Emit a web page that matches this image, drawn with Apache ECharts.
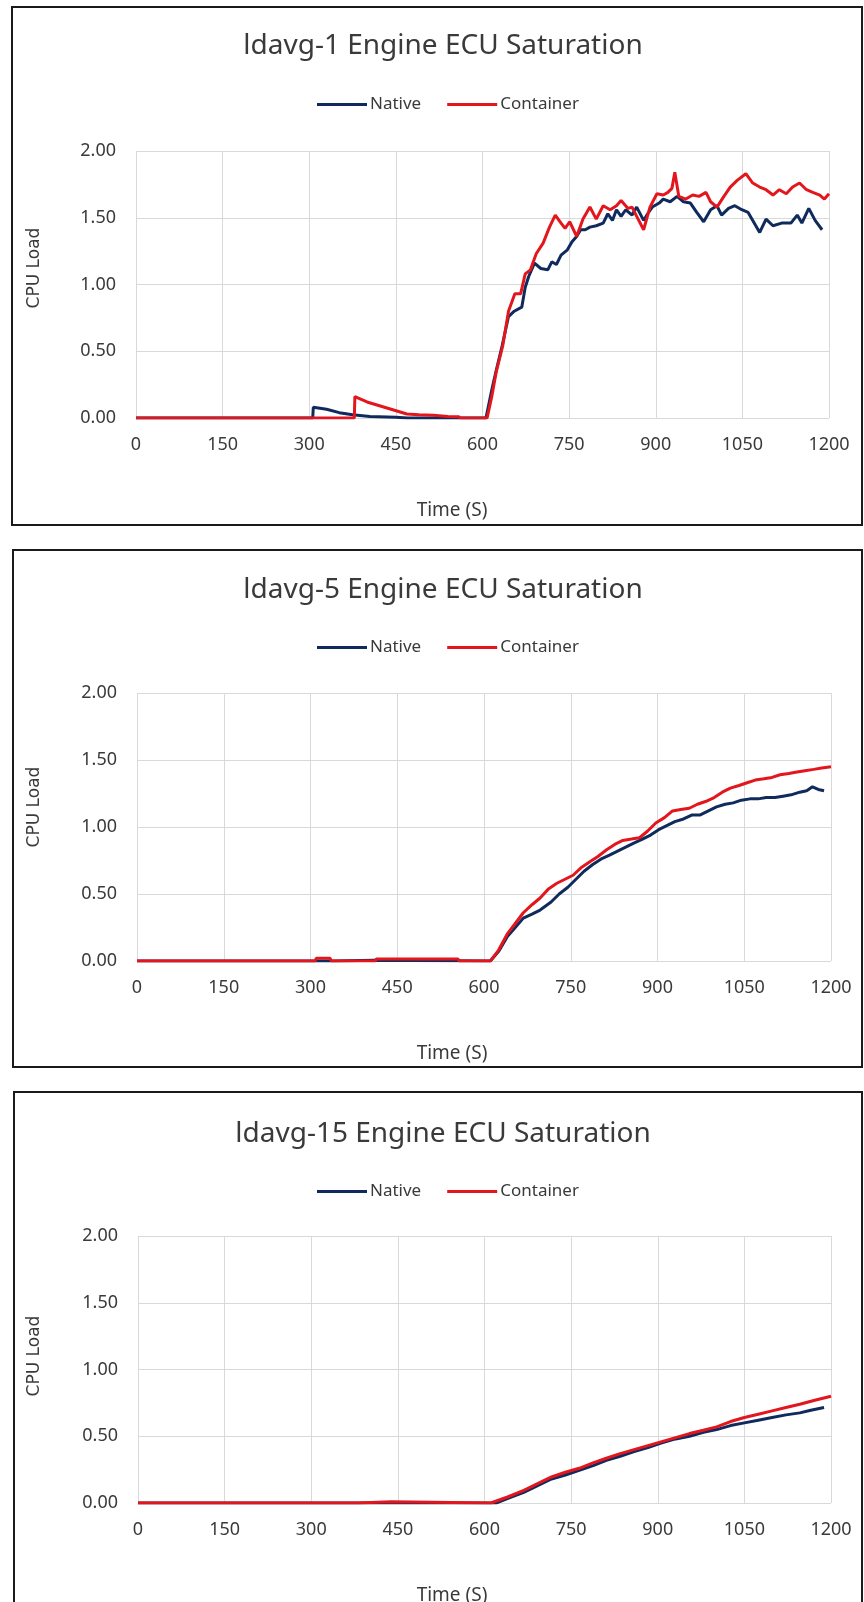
<!DOCTYPE html>
<html>
<head>
<meta charset="utf-8">
<script src="https://cdn.jsdelivr.net/npm/echarts@6/dist/echarts.min.js"></script>
<style>
  html, body { margin: 0; padding: 0; background: #fff; }
  #chart { width: 864px; height: 1602px; }
</style>
</head>
<body>
<div id="chart"></div>
<script>
// ---- data (time in s, CPU load) ----
var xTicks = [0, 150, 300, 450, 600, 750, 900, 1050, 1200];
var yTicks = [0, 0.5, 1.0, 1.5, 2.0];
var seriesNames = ['Native', 'Container'];
var chartTitles = ['ldavg-1 Engine ECU Saturation', 'ldavg-5 Engine ECU Saturation', 'ldavg-15 Engine ECU Saturation'];

var native1 = [[0,0],[306,0],[307,0.08],[330,0.065],[352,0.04],[375,0.025],[405,0.012],[450,0.005],[470,0],[606,0],[616,0.21],[624,0.36],[634,0.54],[645,0.76],[655,0.80],[668,0.83],[674,0.98],[680,1.06],[690,1.16],[701,1.12],[713,1.11],[720,1.17],[728,1.15],[736,1.22],[747,1.26],[755,1.32],[763,1.36],[770,1.41],[778,1.41],[786,1.43],[797,1.44],[809,1.46],[817,1.53],[825,1.48],[832,1.56],[840,1.51],[848,1.56],[859,1.52],[867,1.58],[879,1.48],[886,1.53],[894,1.58],[906,1.61],[913,1.64],[925,1.62],[937,1.66],[948,1.62],[960,1.61],[971,1.54],[983,1.47],[995,1.56],[1006,1.59],[1014,1.52],[1026,1.57],[1037,1.59],[1049,1.56],[1060,1.54],[1068,1.48],[1080,1.39],[1091,1.49],[1103,1.44],[1118,1.46],[1134,1.46],[1145,1.52],[1153,1.46],[1165,1.57],[1176,1.48],[1188,1.41]];
var container1 = [[0,0],[378,0],[379,0.16],[400,0.12],[423,0.09],[446,0.06],[469,0.03],[490,0.025],[515,0.02],[540,0.012],[558,0.01],[562,0],[608,0],[616,0.16],[624,0.35],[635,0.54],[645,0.80],[656,0.93],[666,0.93],[674,1.08],[683,1.11],[693,1.23],[705,1.31],[716,1.43],[726,1.52],[736,1.46],[743,1.42],[751,1.47],[763,1.36],[774,1.49],[786,1.58],[797,1.49],[809,1.59],[821,1.56],[832,1.59],[840,1.63],[852,1.57],[859,1.58],[867,1.51],[879,1.41],[890,1.58],[902,1.68],[913,1.67],[921,1.69],[928,1.72],[933,1.84],[940,1.66],[952,1.64],[964,1.67],[975,1.66],[987,1.69],[995,1.62],[1006,1.58],[1018,1.66],[1029,1.73],[1041,1.78],[1056,1.83],[1068,1.76],[1080,1.73],[1091,1.71],[1103,1.67],[1114,1.71],[1126,1.68],[1137,1.73],[1149,1.76],[1161,1.71],[1172,1.69],[1184,1.67],[1192,1.64],[1200,1.68]];

var native5 = [[0,0],[340,0],[341,0.005],[410,0.005],[411,0],[611,0],[625,0.07],[640,0.18],[654,0.25],[668,0.32],[683,0.35],[697,0.38],[716,0.44],[730,0.50],[745,0.55],[759,0.61],[773,0.67],[788,0.72],[802,0.76],[817,0.79],[831,0.82],[845,0.85],[859,0.88],[874,0.91],[888,0.94],[902,0.98],[916,1.01],[930,1.04],[945,1.06],[960,1.09],[974,1.09],[988,1.12],[1002,1.15],[1017,1.17],[1031,1.18],[1045,1.20],[1060,1.21],[1074,1.21],[1088,1.22],[1103,1.22],[1117,1.23],[1131,1.24],[1146,1.26],[1158,1.27],[1168,1.30],[1178,1.28],[1188,1.27]];
var container5 = [[0,0],[308,0],[310,0.02],[334,0.02],[336,0],[412,0],[414,0.015],[555,0.015],[557,0],[611,0],[625,0.08],[640,0.20],[654,0.28],[668,0.36],[683,0.42],[697,0.47],[712,0.54],[726,0.58],[740,0.61],[754,0.64],[769,0.70],[783,0.74],[797,0.78],[812,0.83],[826,0.87],[840,0.90],[855,0.91],[869,0.92],[883,0.97],[897,1.03],[912,1.07],[926,1.12],[940,1.13],[955,1.14],[969,1.17],[983,1.19],[998,1.22],[1012,1.26],[1026,1.29],[1041,1.31],[1055,1.33],[1069,1.35],[1084,1.36],[1098,1.37],[1112,1.39],[1127,1.40],[1141,1.41],[1155,1.42],[1170,1.43],[1184,1.44],[1200,1.45]];

var native15 = [[0,0],[308,0],[310,0.008],[313,0],[620,0],[644,0.04],[668,0.08],[692,0.13],[716,0.18],[740,0.21],[764,0.245],[788,0.28],[811,0.32],[835,0.35],[859,0.385],[883,0.415],[907,0.45],[931,0.48],[955,0.50],[979,0.53],[1002,0.55],[1026,0.58],[1050,0.60],[1074,0.62],[1098,0.64],[1122,0.66],[1146,0.675],[1165,0.695],[1188,0.715]];
var container15 = [[0,0],[380,0],[382,0.01],[438,0.01],[440,0],[611,0],[640,0.045],[668,0.095],[692,0.145],[716,0.195],[740,0.23],[764,0.26],[788,0.30],[811,0.335],[835,0.37],[859,0.40],[883,0.43],[907,0.46],[931,0.49],[955,0.52],[979,0.545],[1002,0.57],[1026,0.61],[1050,0.64],[1074,0.665],[1098,0.69],[1122,0.715],[1146,0.74],[1172,0.77],[1200,0.80]];

var panelData = [[native1, container1], [native5, container5], [native15, container15]];

// ---- layout (pixels) ----
var FONT = "'Noto Sans', 'Open Sans', sans-serif";
var NAVY = '#0f2a5c';
var RED = '#e3161e';
var TXT = '#3a3a3a';
var GRIDC = '#d9d9d9';

var panels = [
  { box: [12, 7, 850, 518],   grid: [136, 151, 693, 267], titleY: 46,   legendY: 103,  cpuY: 268 },
  { box: [13, 550, 849, 517], grid: [137, 693, 694, 268], titleY: 590,  legendY: 646,  cpuY: 807 },
  { box: [14, 1092, 848, 540], grid: [138, 1236, 693, 267], titleY: 1134, legendY: 1190, cpuY: 1356 }
];

var grids = [], xAxes = [], yAxes = [], series = [], legends = [], graphics = [];

panels.forEach(function (p, i) {
  graphics.push({
    type: 'rect', silent: true, z: -1,
    shape: { x: p.box[0], y: p.box[1], width: p.box[2], height: p.box[3] },
    style: { fill: '#fff', stroke: '#1a1a1a', lineWidth: 2 }
  });
  graphics.push({
    type: 'text', x: 443, y: p.titleY, z: 10,
    style: { text: chartTitles[i], fill: TXT, font: "28px " + FONT, textAlign: 'center', textVerticalAlign: 'middle' }
  });
  graphics.push({
    type: 'text', x: 35, y: p.cpuY, rotation: Math.PI / 2, z: 10,
    style: { text: 'CPU Load', fill: TXT, font: "17px 'DejaVu Sans', sans-serif", textAlign: 'center', textVerticalAlign: 'middle' }
  });
  graphics.push({
    type: 'text', x: 452, y: p.grid[1] + p.grid[3] + 93, z: 10,
    style: { text: 'Time (S)', fill: TXT, font: "19px " + FONT, textAlign: 'center', textVerticalAlign: 'middle' }
  });

  grids.push({ left: p.grid[0], top: p.grid[1], width: p.grid[2], height: p.grid[3], containLabel: false });
  xAxes.push({
    type: 'value', gridIndex: i, min: xTicks[0], max: xTicks[xTicks.length - 1], interval: xTicks[1] - xTicks[0],
    axisLine: { show: false }, axisTick: { show: false },
    splitLine: { show: true, lineStyle: { color: GRIDC, width: 1 } },
    axisLabel: { fontFamily: FONT, fontSize: 18, color: TXT, margin: 18, formatter: function (v) { return String(v); } }
  });
  yAxes.push({
    type: 'value', gridIndex: i, min: yTicks[0], max: yTicks[yTicks.length - 1], interval: yTicks[1] - yTicks[0],
    axisLine: { show: false }, axisTick: { show: false },
    splitLine: { show: true, lineStyle: { color: GRIDC, width: 1 } },
    axisLabel: { fontFamily: FONT, fontSize: 18, color: TXT, margin: 20, formatter: function (v) { return v.toFixed(2); } }
  });
  legends.push({
    left: 312, top: p.legendY - 12, itemWidth: 50, itemHeight: 3, itemGap: 26, icon: 'rect',
    textStyle: { fontFamily: FONT, fontSize: 17, color: TXT, padding: [0, 0, 0, -2] },
    data: seriesNames, selectedMode: false
  });
  [NAVY, RED].forEach(function (c, k) {
    series.push({
      name: seriesNames[k], type: 'line', xAxisIndex: i, yAxisIndex: i,
      data: panelData[i][k], showSymbol: false, symbol: 'none',
      lineStyle: { color: c, width: 3 }, itemStyle: { color: c },
      animation: false, z: 3 + k
    });
  });
});

var chart = echarts.init(document.getElementById('chart'), null, { renderer: 'canvas' });
chart.setOption({
  backgroundColor: '#ffffff',
  animation: false,
  grid: grids, xAxis: xAxes, yAxis: yAxes, legend: legends, series: series,
  graphic: graphics
});
</script>
</body>
</html>
